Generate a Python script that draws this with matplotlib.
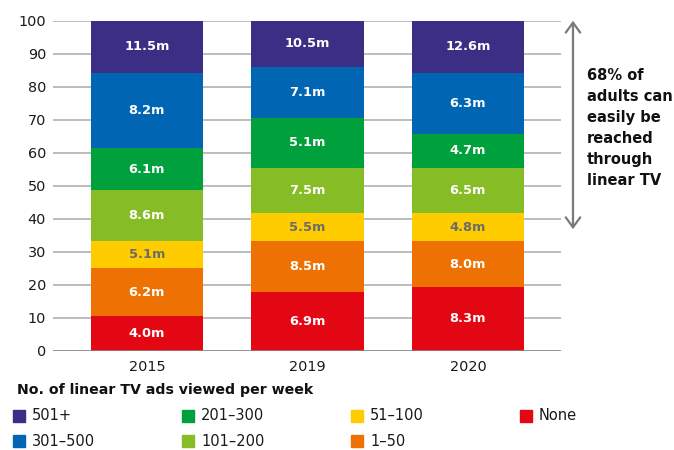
import matplotlib
matplotlib.use("Agg")
import matplotlib.pyplot as plt
from matplotlib.patches import Rectangle

plt.rcParams['font.family'] = ['DejaVu Sans']

# Survey years
years = ['2015', '2019', '2020']

# Bands of linear TV ads viewed per week, stacked bottom to top
bands = ['None', '1–50', '51–100', '101–200', '201–300', '301–500', '501+']

# Share of adults in each band (% of bar height)
share_none = [10.5, 17.9, 19.3]
share_1_50 = [14.5, 15.3, 13.9]
share_51_100 = [8.2, 8.5, 8.5]
share_101_200 = [15.4, 13.8, 13.8]
share_201_300 = [12.9, 15.1, 10.3]
share_301_500 = [22.7, 15.4, 18.4]
share_501_plus = [15.8, 14.0, 15.8]

# Number of adults in each band (millions), printed inside the segments
people_none = [4.0, 6.9, 8.3]
people_1_50 = [6.2, 8.5, 8.0]
people_51_100 = [5.1, 5.5, 4.8]
people_101_200 = [8.6, 7.5, 6.5]
people_201_300 = [6.1, 5.1, 4.7]
people_301_500 = [8.2, 7.1, 6.3]
people_501_plus = [11.5, 10.5, 12.6]

colors = ['#e30613', '#ee7203', '#ffcc00', '#86bc25', '#00a03c', '#0066b3', '#3d2e85']
label_colors = ['white', 'white', '#6b6b6b', 'white', 'white', 'white', 'white']

shares = [share_none, share_1_50, share_51_100, share_101_200,
          share_201_300, share_301_500, share_501_plus]
people = [people_none, people_1_50, people_51_100, people_101_200,
          people_201_300, people_301_500, people_501_plus]

W, H = 674, 450
fig = plt.figure(figsize=(W / 100, H / 100), dpi=100)
ax = fig.add_axes([53 / W, 1 - 350.7 / H, (561 - 53) / W, (350.7 - 20.7) / H])

x = list(range(len(years)))
bottom = [0.0] * len(years)
for vals, nums, col, tcol in zip(shares, people, colors, label_colors):
    ax.bar(x, vals, bottom=bottom, width=0.7, color=col, zorder=3)
    for xi, b, v, n in zip(x, bottom, vals, nums):
        ax.text(xi, b + v / 2, f'{n:.1f}m', ha='center', va='center',
                color=tcol, fontsize=9.4, fontweight='bold', zorder=4)
    bottom = [b + v for b, v in zip(bottom, vals)]

ax.set_xlim(-0.585, 2.58)
ax.set_ylim(0, 100)
ax.set_yticks(range(0, 101, 10))
ax.set_xticks(x)
ax.set_xticklabels(years)
ax.tick_params(axis='both', length=0, labelsize=10.4, colors='#1a1a1a')
ax.tick_params(axis='y', pad=5)
ax.tick_params(axis='x', pad=7)
ax.grid(axis='y', color='#ababab', linewidth=1.1, zorder=0)
ax.set_axisbelow(True)
for s in ax.spines.values():
    s.set_visible(False)
ax.axhline(0, color='#8a8a8a', linewidth=1.8, zorder=5)

# Reach bracket on the right
ax.annotate('', xy=(1.0236, 100), xytext=(1.0236, 36.8),
            xycoords=('axes fraction', 'data'), textcoords=('axes fraction', 'data'),
            arrowprops=dict(arrowstyle='<->, head_length=0.36, head_width=0.26',
                            mutation_scale=20, color='#7a7a7a', lw=1.6,
                            shrinkA=0, shrinkB=0),
            annotation_clip=False)
fig.text(587 / W, 1 - 68 / H, '68% of\nadults can\neasily be\nreached\nthrough\nlinear TV',
         ha='left', va='top', fontsize=10.5, fontweight='bold', color='#111111',
         linespacing=1.5)

# Legend
fig.text(17 / W, 1 - 390 / H, 'No. of linear TV ads viewed per week',
         ha='left', va='center', fontsize=10.2, fontweight='bold', color='#111111')
legend_order = list(range(len(bands)))[::-1]
col_x = [13, 182, 351, 520]
row_y = [416, 441]
for k, idx in enumerate(legend_order):
    cx = col_x[k // 2]
    cy = row_y[k % 2]
    fig.add_artist(Rectangle((cx / W, 1 - (cy + 6) / H), 12 / W, 12 / H,
                             transform=fig.transFigure, color=colors[idx]))
    fig.text((cx + 19) / W, 1 - cy / H, bands[idx], ha='left', va='center',
             fontsize=10.5, color='#1a1a1a')

fig.savefig('out.png', dpi=100)
